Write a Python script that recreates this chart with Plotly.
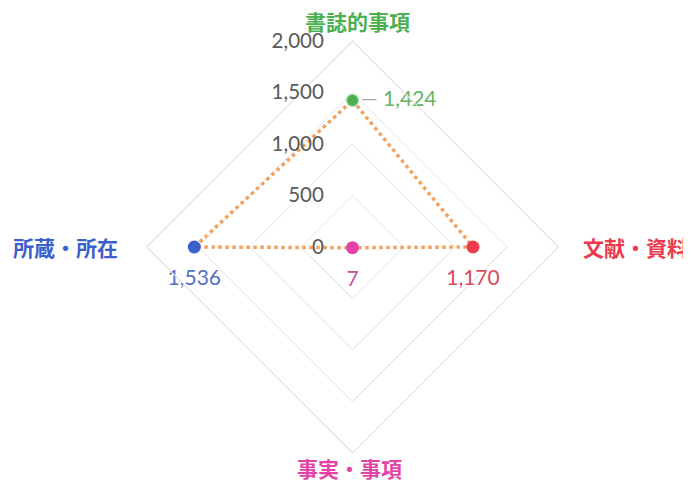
import plotly.graph_objects as go

categories = ["書誌的事項", "文献・資料", "事実・事項", "所蔵・所在"]
values = [1424, 1170, 7, 1536]
value_labels = ["1,424", "1,170", "7", "1,536"]
radial_ticks = [0, 500, 1000, 1500, 2000]
radial_ticktext = ["0", "500", "1,000", "1,500", "2,000"]

cat_colors = ["#4DB04F", "#EC3A4E", "#E443A6", "#3A60CC"]
val_colors = ["#62B462", "#DB4A5E", "#CC4F9C", "#5270C2"]
text_pos = ["middle right", "bottom center", "bottom center", "bottom center"]

FONT_NUM = "Lato, Open Sans, sans-serif"
FONT_CJK = "Noto Sans CJK JP, sans-serif"

fig = go.Figure()

# dotted connecting line
fig.add_trace(go.Scatterpolar(
    r=values + [values[0]],
    theta=categories + [categories[0]],
    mode="lines",
    line=dict(color="#F2A25E", width=3.5, dash="dot"),
    hoverinfo="skip",
    showlegend=False,
))

# markers
fig.add_trace(go.Scatterpolar(
    r=values,
    theta=categories,
    mode="markers",
    marker=dict(size=13, color=cat_colors),
    cliponaxis=False,
    showlegend=False,
))

# value labels (transparent markers push text away from points)
labels = []
for t, p in zip(value_labels, text_pos):
    if p == "middle right":
        labels.append('<span style="color:#A8A8A8">—</span> ' + t)
    else:
        labels.append(t)

fig.add_trace(go.Scatterpolar(
    r=values,
    theta=categories,
    mode="markers+text",
    text=labels,
    textposition=text_pos,
    textfont=dict(size=21, color=val_colors, family=FONT_NUM),
    marker=dict(size=[12, 34, 34, 34], color="rgba(0,0,0,0)"),
    cliponaxis=False,
    hoverinfo="skip",
    showlegend=False,
))

# category labels around the chart
label_xy = [(0.5058, 0.9730), (0.9088, 0.5041), (0.4949, 0.0456), (0.0825, 0.5041)]
annotations = [
    dict(text=f"<b>{t}</b>", x=x, y=y, xref="paper", yref="paper",
         xanchor="center", yanchor="middle", showarrow=False,
         font=dict(size=21, color=c, family=FONT_CJK))
    for t, c, (x, y) in zip(categories, cat_colors, label_xy)
]

fig.update_layout(
    width=691,
    height=482,
    paper_bgcolor="white",
    plot_bgcolor="white",
    margin=dict(l=0, r=0, t=0, b=0),
    showlegend=False,
    annotations=annotations,
    polar=dict(
        domain=dict(x=[0.2004, 0.7967], y=[0.0768, 0.9315]),
        bgcolor="white",
        gridshape="linear",
        radialaxis=dict(
            range=[0, 2000],
            tickmode="array",
            tickvals=radial_ticks,
            ticktext=radial_ticktext,
            showticklabels=True,
            angle=90,
            tickangle=90,
            side="counterclockwise",
            showline=False,
            ticks="outside",
            ticklen=21,
            tickcolor="rgba(0,0,0,0)",
            tickfont=dict(size=20.5, color="#595959", family=FONT_NUM),
            showgrid=True,
            gridcolor="#E2E2E2",
            gridwidth=1.2,
        ),
        angularaxis=dict(
            categoryorder="array",
            categoryarray=categories,
            rotation=90,
            direction="clockwise",
            showgrid=False,
            showline=True,
            linecolor="#E2E2E2",
            linewidth=1.2,
            ticks="",
            showticklabels=False,
        ),
    ),
)

fig.write_html("out.html")
